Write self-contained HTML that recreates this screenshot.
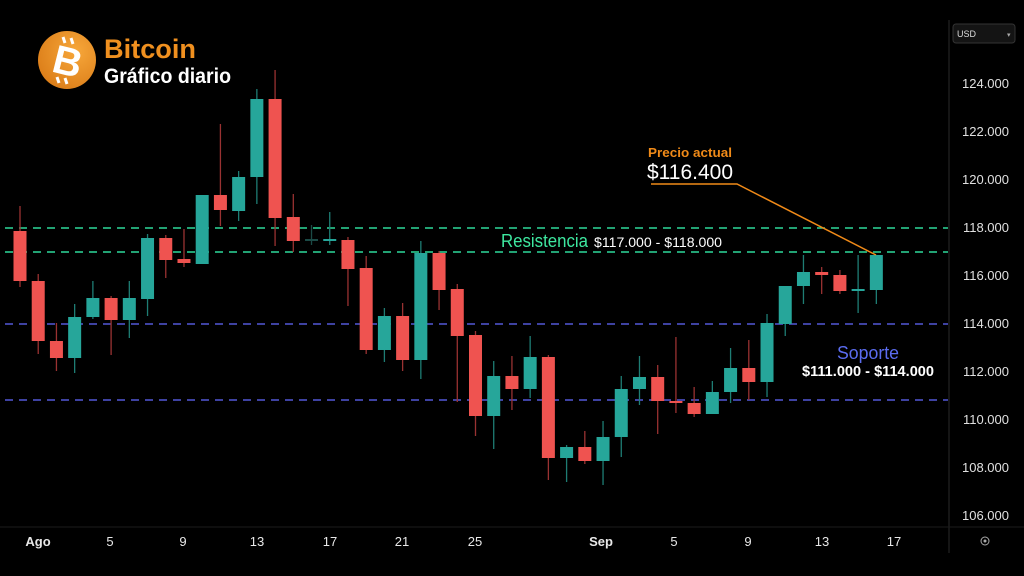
<!DOCTYPE html>
<html><head><meta charset="utf-8"><style>
html,body{margin:0;padding:0;background:#000;}
body{width:1024px;height:576px;overflow:hidden;position:relative;font-family:"Liberation Sans",sans-serif;}
svg{position:absolute;left:0;top:0;}
</style></head><body>
<svg width="1024" height="576" viewBox="0 0 1024 576" xmlns="http://www.w3.org/2000/svg">
<rect width="1024" height="576" fill="#000"/>
<line x1="949" y1="20" x2="949" y2="553" stroke="#2a2a2a" stroke-width="1"/>
<line x1="0" y1="527" x2="1024" y2="527" stroke="#1c1c1c" stroke-width="1"/>
<g stroke-dasharray="8,6" stroke-width="1.5">
<line x1="5" y1="228" x2="948" y2="228" stroke="#2ed99a"/>
<line x1="5" y1="252" x2="948" y2="252" stroke="#2ed99a"/>
<line x1="5" y1="324" x2="948" y2="324" stroke="#5258d8"/>
<line x1="5" y1="400" x2="948" y2="400" stroke="#5258d8"/>
</g>
<g id="c"></g>
<polyline points="651,184 737,184 876,255" fill="none" stroke="#f08a18" stroke-width="1.5"/>
<text x="648" y="157" fill="#f08a18" font-size="13" font-weight="bold" textLength="84" lengthAdjust="spacingAndGlyphs">Precio actual</text>
<text x="647" y="179" fill="#fff" font-size="21" textLength="86" lengthAdjust="spacingAndGlyphs">$116.400</text>
<text x="501" y="247" fill="#3ee8a0" font-size="18" textLength="87" lengthAdjust="spacingAndGlyphs">Resistencia</text>
<text x="594" y="247" fill="#fff" font-size="14" textLength="128" lengthAdjust="spacingAndGlyphs">$117.000 - $118.000</text>
<text x="837" y="359" fill="#5b6cf0" font-size="18" textLength="62" lengthAdjust="spacingAndGlyphs">Soporte</text>
<text x="802" y="376" fill="#fff" font-size="15" font-weight="bold" textLength="132" lengthAdjust="spacingAndGlyphs">$111.000 - $114.000</text>
<g fill="#e0e0e0" font-size="13" text-anchor="end">
<text x="1009" y="88">124.000</text>
<text x="1009" y="136">122.000</text>
<text x="1009" y="184">120.000</text>
<text x="1009" y="232">118.000</text>
<text x="1009" y="280">116.000</text>
<text x="1009" y="328">114.000</text>
<text x="1009" y="376">112.000</text>
<text x="1009" y="424">110.000</text>
<text x="1009" y="472">108.000</text>
<text x="1009" y="520">106.000</text>
</g>
<g fill="#e8e8e8" font-size="13" text-anchor="middle">
<text x="38" y="546" font-weight="bold">Ago</text>
<text x="110" y="546">5</text>
<text x="183" y="546">9</text>
<text x="257" y="546">13</text>
<text x="330" y="546">17</text>
<text x="402" y="546">21</text>
<text x="475" y="546">25</text>
<text x="601" y="546" font-weight="bold">Sep</text>
<text x="674" y="546">5</text>
<text x="748" y="546">9</text>
<text x="822" y="546">13</text>
<text x="894" y="546">17</text>
</g>
<circle cx="985" cy="541" r="4" fill="none" stroke="#aaa" stroke-width="1"/>
<circle cx="985" cy="541" r="1.5" fill="#aaa"/>
<rect x="953" y="24" width="62" height="19" rx="3" fill="#141414" stroke="#333"/>
<text x="957" y="37" fill="#ddd" font-size="9">USD</text>
<text x="1007" y="37" fill="#aaa" font-size="7">▾</text>
<defs><radialGradient id="g" cx="0.65" cy="0.35" r="0.8"><stop offset="0" stop-color="#f7a73a"/><stop offset="1" stop-color="#d97a16"/></radialGradient></defs>
<circle cx="67" cy="60" r="29" fill="url(#g)"/>
<text x="68" y="75" fill="#fff" font-size="40" font-weight="bold" text-anchor="middle" transform="rotate(14 67 60)">B</text>
<line x1="63" y1="37" x2="65" y2="43" stroke="#fff" stroke-width="3"/>
<line x1="71" y1="38" x2="73" y2="44" stroke="#fff" stroke-width="3"/>
<line x1="57" y1="77" x2="59" y2="83" stroke="#fff" stroke-width="3"/>
<line x1="65" y1="78" x2="67" y2="84" stroke="#fff" stroke-width="3"/>
<text x="104" y="58" fill="#f0901f" font-size="27" font-weight="bold" textLength="92" lengthAdjust="spacingAndGlyphs">Bitcoin</text>
<text x="104" y="83" fill="#fff" font-size="21" font-weight="bold" textLength="127" lengthAdjust="spacingAndGlyphs">Gráfico diario</text>
</svg>
<script>
var d=[
[231,281,206,287,0],[281,341,274,354,0],[341,358,323,371,0],[317,358,304,373,1],
[298,317,281,319,1],[298,320,296,355,0],[298,320,281,338,1],[238,299,234,316,1],
[238,260,235,278,0],[259,263,229,267,0],[195,264,195,264,1],[195,210,124,226,0],
[177,211,171,221,1],[99,177,89,204,1],[99,218,70,246,0],[217,241,194,252,0],
[239,241,225,245,2],[239,241,212,245,1],[240,269,237,306,0],[268,350,256,354,0],
[316,350,308,362,1],[316,360,303,371,0],[253,360,241,379,1],[253,290,251,310,0],
[289,336,284,402,0],[335,416,331,436,0],[376,416,361,449,1],[376,389,356,410,0],
[357,389,336,398,1],[357,458,355,480,0],[447,458,445,482,1],[447,461,431,464,0],
[437,461,421,485,1],[389,437,376,457,1],[377,389,356,405,1],[377,401,365,434,0],
[401,403,337,413,0],[403,414,387,417,0],[392,414,381,414,1],[368,392,348,403,1],
[368,382,340,400,0],[323,382,314,397,1],[286,324,286,336,1],[272,286,255,304,1],
[272,275,267,294,0],[275,291,270,294,0],[289,291,255,313,1],[255,290,255,304,1]];
var s='';
for(var i=0;i<d.length;i++){var x=20+i*18.22,c=d[i];
var bc=c[4]==0?'#ef5350':(c[4]==1?'#26a69a':'#1b4a46');
var wc=c[4]==0?'#9a3232':(c[4]==1?'#1e7d74':'#1b4a46');
s+='<line x1="'+x+'" y1="'+c[2]+'" x2="'+x+'" y2="'+c[3]+'" stroke="'+wc+'" stroke-width="1.3"/>';
s+='<rect x="'+(x-6.5)+'" y="'+c[0]+'" width="13" height="'+Math.max(2,c[1]-c[0])+'" fill="'+bc+'"/>';}
document.getElementById('c').innerHTML=s;
</script>
</body></html>
